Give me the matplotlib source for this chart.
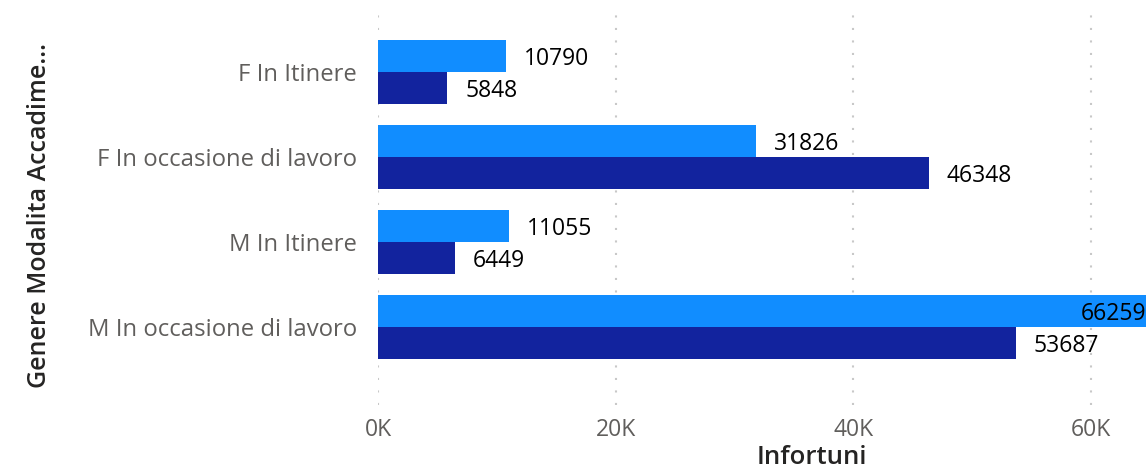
import matplotlib
matplotlib.use("Agg")
import matplotlib.pyplot as plt
import numpy as np

categories = ["F In Itinere", "F In occasione di lavoro", "M In Itinere", "M In occasione di lavoro"]
series_a = [10790, 31826, 11055, 66259]   # light blue (upper bar)
series_b = [5848, 46348, 6449, 53687]     # dark blue (lower bar)
xticks = [0, 20000, 40000, 60000]
xtick_labels = ["0K", "20K", "40K", "60K"]

plt.rcParams['font.family'] = ['Open Sans', 'DejaVu Sans']

W, H = 1146, 471
fig = plt.figure(figsize=(W / 100, H / 100), dpi=100)
ax = fig.add_axes([378 / W, 1 - 405 / H, (1146 - 378) / W, (405 - 15) / H])

xmax = 64630
ax.set_xlim(0, xmax)
ax.set_ylim(3.92, -0.67)

y = np.arange(len(categories))
h = 0.376
light = "#118DFF"
dark = "#12239E"
ax.barh(y - h / 2, series_a, height=h, color=light, zorder=2)
ax.barh(y + h / 2, series_b, height=h, color=dark, zorder=2)

def label(v, yy):
    if v > xmax:
        ax.annotate(f"{v}", (xmax, yy), xytext=(0, -3), textcoords="offset pixels",
                    ha="right", va="center", fontsize=16.5, color="black", zorder=3,
                    annotation_clip=False)
    else:
        ax.annotate(f"{v}", (v, yy), xytext=(18, -3), textcoords="offset pixels",
                    ha="left", va="center", fontsize=16.5, color="black", zorder=3)

for i in range(len(categories)):
    label(series_a[i], y[i] - h / 2)
    label(series_b[i], y[i] + h / 2)

ax.set_xticks(xticks)
ax.set_xticklabels(xtick_labels, fontsize=16.5, color="#605E5C")
ax.set_yticks(y)
ax.set_yticklabels(categories, fontsize=17.2, color="#605E5C")
ax.tick_params(axis="both", length=0)
ax.tick_params(axis="y", pad=15)
ax.tick_params(axis="x", pad=9)

for s in ax.spines.values():
    s.set_visible(False)
ax.grid(axis="x", color="#C8C8C8", linestyle=(0, (1, 5)), linewidth=1.5, zorder=0)
ax.grid(axis="y", visible=False)
ax.set_axisbelow(True)

fig.text(812 / W, 1 - 458 / H, "Infortuni", ha="center", va="center",
         fontsize=18.5, fontweight="semibold", color="#252423")
fig.text(40 / W, 1 - 216 / H, "Genere Modalita Accadime...", ha="center", va="center",
         rotation=90, fontsize=18, fontweight="semibold", color="#252423")

fig.savefig("out.png", dpi=100)
